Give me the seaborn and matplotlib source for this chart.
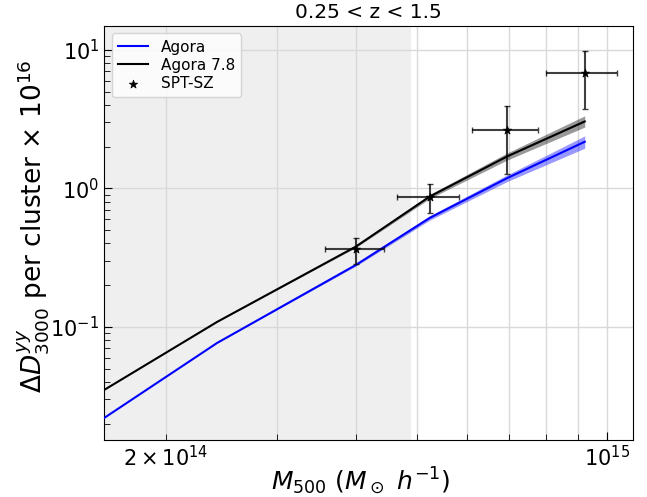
import numpy as np
import pandas as pd
import matplotlib
matplotlib.use("Agg")
import matplotlib.pyplot as plt
from matplotlib.ticker import FuncFormatter
import seaborn as sns

# Model curves: cluster mass nodes and tSZ power per cluster
mass_model = [1.45e14, 2.41e14, 4.0e14, 5.24e14, 6.95e14, 9.23e14]
agora = [0.0165, 0.0766, 0.280, 0.612, 1.185, 2.17]
agora_lo = [0.0165, 0.0766, 0.275, 0.590, 1.12, 1.95]
agora_hi = [0.0165, 0.0766, 0.285, 0.635, 1.25, 2.39]
agora78 = [0.0270, 0.1087, 0.380, 0.873, 1.70, 3.04]
agora78_lo = [0.0270, 0.1087, 0.374, 0.845, 1.60, 2.77]
agora78_hi = [0.0270, 0.1087, 0.386, 0.905, 1.80, 3.34]

# SPT-SZ measurements
spt_mass = [4.0e14, 5.24e14, 6.95e14, 9.23e14]
spt_mass_lo = [3.57e14, 4.65e14, 6.11e14, 8.02e14]
spt_mass_hi = [4.43e14, 5.83e14, 7.78e14, 1.04e15]
spt_val = [0.364, 0.873, 2.63, 6.86]
spt_val_lo = [0.284, 0.669, 1.27, 3.77]
spt_val_hi = [0.436, 1.07, 3.96, 9.88]

fig, ax = plt.subplots(figsize=(6.47, 4.97), dpi=100)
fig.subplots_adjust(left=0.161, right=0.978, top=0.948, bottom=0.115)

ax.set_xscale("log")
ax.set_yscale("log")

# Low-mass region
ax.axvspan(1.0e14, 4.9e14, color="0.5", alpha=0.12, lw=0, zorder=0)

df = pd.DataFrame({
    "mass": mass_model * 2,
    "power": agora + agora78,
    "model": ["Agora"] * len(mass_model) + ["Agora 7.8"] * len(mass_model),
})
sns.lineplot(data=df, x="mass", y="power", hue="model",
             palette={"Agora": "blue", "Agora 7.8": "black"},
             lw=1.5, ax=ax, zorder=3)
ax.fill_between(mass_model, agora_lo, agora_hi, color="blue", alpha=0.4, lw=0, zorder=2)
ax.fill_between(mass_model, agora78_lo, agora78_hi, color="black", alpha=0.4, lw=0, zorder=2)

xerr = [np.array(spt_mass) - np.array(spt_mass_lo), np.array(spt_mass_hi) - np.array(spt_mass)]
yerr = [np.array(spt_val) - np.array(spt_val_lo), np.array(spt_val_hi) - np.array(spt_val)]
ax.errorbar(spt_mass, spt_val, xerr=xerr, yerr=yerr, fmt="none",
            ecolor="black", alpha=0.75, elinewidth=1.5, capsize=2.5, zorder=4)
sns.scatterplot(x=spt_mass, y=spt_val, marker="*", color="black", s=40,
                edgecolor="black", label="SPT-SZ", ax=ax, zorder=5)

ax.set_xlim(1.595e14, 1.10e15)
ax.set_ylim(0.0153, 14.9)


def minor_x_label(val, pos):
    # only the 2e14 minor tick carries a label
    if abs(val / 2e14 - 1) < 1e-6:
        return r"$2\times10^{14}$"
    return ""


ax.xaxis.set_minor_formatter(FuncFormatter(minor_x_label))
ax.yaxis.set_minor_formatter(FuncFormatter(lambda v, p: ""))
ax.grid(True, which="both", axis="x", color="0.85", lw=1)
ax.grid(True, which="major", axis="y", color="0.85", lw=1)
ax.tick_params(which="both", direction="in", labelsize=15)
ax.tick_params(which="major", length=6)
ax.tick_params(which="minor", length=4)

ax.set_xlabel(r"$M_{500}\ (M_\odot\ h^{-1})$", fontsize=18)
ax.xaxis.set_label_coords(0.485, -0.099, transform=ax.transAxes)
ax.xaxis.label.set_va("center")
ax.set_ylabel(r"$\Delta D_{3000}^{yy}$ per cluster $\times\ 10^{16}$", fontsize=19)
ax.yaxis.set_label_coords(-0.1, 0.515, transform=ax.transAxes)
ax.set_title("0.25 < z < 1.5", fontsize=14.5)

ax.legend(loc="upper left", fontsize=11, framealpha=0.8, title=None,
          labelspacing=0.2, borderpad=0.4, handlelength=2.0)

fig.savefig("out.png", dpi=100)
